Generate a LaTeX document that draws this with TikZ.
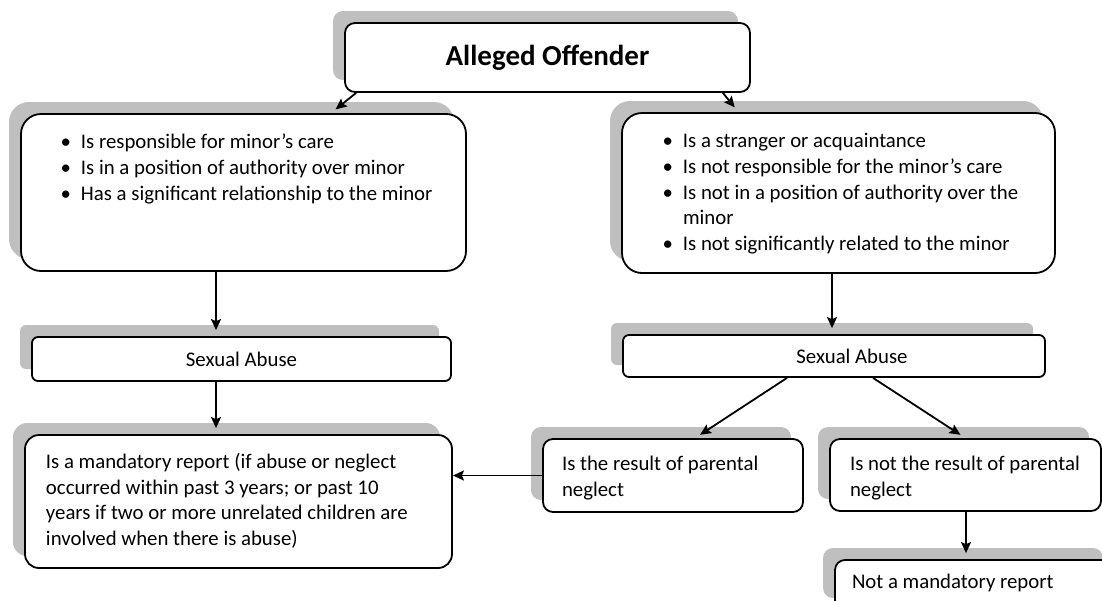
\documentclass[tikz,border=0pt]{standalone}
\usepackage{fontspec}
\setmainfont{Carlito}
\usetikzlibrary{shadows, calc, arrows.meta}

% text that starts at the top left of a box: height, width, top gap, left gap, text
\newcommand{\topbox}[5]{\parbox[c][#1][t]{#2}{\raggedright\leftskip=#4\relax\vspace*{#3}\strut #5}}
\newcommand{\bul}{\leavevmode\llap{\textbullet\hspace{5pt}}}

\tikzset{
    box/.style={draw, line width=0.9pt, fill=white, inner sep=0pt,
        font=\fontsize{10.4}{12.9}\selectfont,
        drop shadow={shadow xshift=-6pt, shadow yshift=6pt, fill=gray!50, opacity=1}},
    arr/.style={->, line width=0.9pt, shorten >=3pt}
}

\begin{document}
\begin{tikzpicture}[>={Stealth[length=5.5pt, width=5pt, inset=1pt]}, x=0.5pt, y=-0.5pt]
    \useasboundingbox (0,0) rectangle (1102,600);
    \clip (0,0) rectangle (1102,600);

    % Boxes
    \node[box, rounded corners=5pt, minimum width=202.5pt, minimum height=34.5pt,
        font=\fontsize{14.5}{17}\selectfont\bfseries] (off) at (547.5,57.5) {Alleged Offender};
    \node[box, rounded corners=10pt] (care) at (243.5,192.5)
        {\topbox{78.5pt}{222.5pt}{8.4pt}{30pt}{\bul Is responsible for minor’s care\\
        \bul Is in a position of authority over minor\\
        \bul Has a significant relationship to the minor}};
    \node[box, rounded corners=10pt] (stranger) at (838.5,193)
        {\topbox{80pt}{216.5pt}{8.2pt}{30.5pt}{\bul Is a stranger or acquaintance\\
        \bul Is not responsible for the minor’s care\\
        \bul Is not in a position of authority over the\\ minor\\
        \bul Is not significantly related to the minor}};
    \node[box, rounded corners=3pt, minimum width=209.5pt, minimum height=22pt] (abuseL) at (241.5,359) {Sexual Abuse};
    \node[box, rounded corners=3pt, minimum width=211pt, minimum height=21pt] (abuseR) at (834,356) {\hspace*{18pt}Sexual Abuse};
    \node[box, rounded corners=7pt] (report) at (238.5,501.5)
        {\topbox{66.5pt}{213.5pt}{7.6pt}{10.5pt}{Is a mandatory report (if abuse or neglect\\
        occurred within past 3 years; or past 10\\
        years if two or more unrelated children are\\
        involved when there is abuse)}};
    \node[box, rounded corners=5pt] (neglect) at (673,475.5)
        {\topbox{36.5pt}{130pt}{6.6pt}{9.5pt}{Is the result of parental\\ neglect}};
    \node[box, rounded corners=5pt] (noneglect) at (965.5,475)
        {\topbox{36pt}{135.5pt}{6.6pt}{10pt}{Is not the result of parental\\ neglect}};
    \node[box, rounded corners=5pt] (noreport) at (975,585)
        {\topbox{25pt}{140pt}{5pt}{8.5pt}{Not a mandatory report}};

    \coordinate (colL) at (216,0);
    \coordinate (colR) at (832,0);
    \coordinate (colN) at (966,0);

    % Arrows
    \draw[arr] ($(off.south west)+(12,0)$) -- ($(care.north)+(87.5,0)$);
    \draw[arr] ($(off.south east)+(-28,0)$) -- ($(stranger.north)+(-100,0)$);
    \draw[arr] (care.south -| colL) -- (abuseL.north -| colL);
    \draw[arr] (abuseL.south -| colL) -- (report.north -| colL);
    \draw[arr] (stranger.south -| colR) -- (abuseR.north -| colR);
    \draw[arr] ($(abuseR.south)+(-47,0)$) -- ($(neglect.north)+(22,0)$);
    \draw[arr] ($(abuseR.south)+(39,0)$) -- (noneglect.north);
    \draw[arr, shorten >=0pt] (neglect.west) -- (neglect.west -| report.east);
    \draw[arr] (noneglect.south -| colN) -- (noreport.north -| colN);
\end{tikzpicture}
\end{document}
